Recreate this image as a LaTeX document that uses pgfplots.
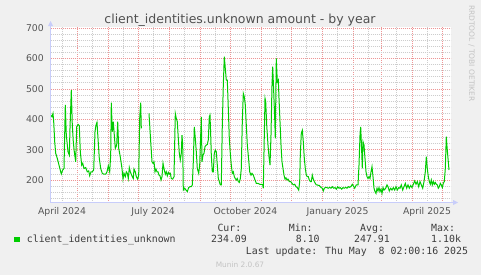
\documentclass[border=0pt]{standalone}
\usepackage{fontspec}
\setmainfont{DejaVu Sans}
\newfontfamily\monofont{DejaVu Sans Mono}
\usepackage{pgfplots}
\pgfplotsset{compat=1.18}
\definecolor{bgcol}{RGB}{240,240,240}
\definecolor{gridred}{RGB}{238,150,150}
\definecolor{gridgray}{RGB}{205,205,205}
\definecolor{axisblue}{RGB}{200,205,250}
\definecolor{labelgray}{RGB}{85,85,85}
\definecolor{titlegray}{RGB}{80,80,80}
\definecolor{legtext}{RGB}{60,60,60}
\definecolor{faint}{RGB}{195,195,195}
\definecolor{munin}{RGB}{0,204,0}
\begin{document}
\begin{tikzpicture}[x=1bp,y=1bp]
\useasboundingbox (0,0) rectangle (481,275);
\fill[bgcol] (0,0) rectangle (481,275);
\begin{axis}[
  at={(50.5bp,72.5bp)}, anchor=south west,
  scale only axis, width=400bp, height=175bp,
  xmin=3.5, xmax=403.5, ymin=126, ymax=702,
  axis line style={draw=none},
  axis background/.style={fill=white},
  xtick={30,61,91,122,153,183,214,244,275,306,334,365,395},
  xticklabels={,,,,,,,,,,,,},
  minor xtick={15,45,76,106,137,168,198,229,259,290,321,349,380},
  ytick={200,300,400,500,600,700},
  minor ytick={140,160,180,220,240,260,280,320,340,360,380,420,440,460,480,520,540,560,580,620,640,660,680},
  grid=both,
  major grid style={draw=gridred, dash pattern=on 1bp off 1bp, line width=0.6bp},
  minor grid style={draw=gridgray, dash pattern=on 1bp off 1bp, line width=0.6bp},
  major tick length=0pt, minor tick length=0pt,
  tick style={draw=none},
  /pgf/number format/assume math mode=true,
  yticklabel style={font=\fontsize{9.3bp}{11bp}\selectfont, text=labelgray, anchor=east, inner sep=0pt, xshift=-6.5bp},
  xticklabel style={font=\fontsize{9.3bp}{11bp}\selectfont, text=labelgray, anchor=base, inner sep=0pt, yshift=-11.5bp},
  extra x ticks={15,106,198.5,290.5,380},
  extra x tick labels={April 2024,July 2024,October 2024,January 2025,April 2025},
  extra x tick style={grid=none},
  unbounded coords=jump,
]
\addplot[color=munin, line width=1bp] coordinates {
(3.7,414) (5,408) (6,419) (6.7,392) (7.7,326) (8.7,288) (10.3,271) (12,249) (13.7,227) (14.3,220)
(15.7,233) (17,238) (18.3,447) (19.3,348) (21,293) (22.3,282) (23,370) (24.3,496) (25.3,381) (26.3,326)
(27.3,293) (28.7,260) (29.7,375) (31,383) (32.3,379) (33.3,293) (34.7,249) (35.7,255) (37,238) (38.7,241)
(40.3,227) (41.7,230) (42.7,214) (44,227) (45.3,227) (46.7,233) (48,359) (49,381) (50,390) (51,337)
(52.3,271) (53.7,238) (55.3,222) (57,219) (58.7,219) (60,227) (61.3,247) (62.7,227) (63.7,282) (64.3,455)
(65.3,359) (66.3,392) (67.3,348) (68.3,304) (69.7,315) (70.7,392) (71.7,304) (73,282) (74,260) (75,238)
(76,203) (77,222) (78.3,211) (79.3,227) (80.3,222) (81.3,205) (82.3,241) (83.3,227) (84.3,219) (85.3,211)
(86.3,205) (87,236) (88.3,227) (89.3,211) (90.7,203) (91.7,216) (92.7,403) (93.7,455) (94.3,370)
(98,nan)
(102,419) (103.7,326) (105,260) (106,255) (107,260) (108,227) (109,236) (110,227) (111,227) (112,216)
(113,214) (114,200) (115,211) (116,255) (117,238) (118.3,219) (119.3,227) (120.3,214) (121.3,225) (122.3,219)
(123.3,222) (124.3,205) (125.7,203) (127,211) (128.3,419) (129.3,403) (130.3,392) (131.3,337) (132.3,288) (133.3,266)
(134.3,288) (135,348) (135.7,315) (136.3,167) (137.7,173) (139,167) (140.3,162) (141.7,175) (143,178) (144.3,178)
(145.3,184) (146.3,260) (147.3,375) (148.3,337) (149.3,293) (150.3,238) (151.7,222) (152.7,249) (153.7,348) (154.3,408)
(155,260) (156,282) (157,288) (158,310) (159.3,315) (160.3,317) (161.3,332) (162.3,408) (163,414) (163.7,348)
(164.3,282) (165.3,227) (166.3,227) (167.3,288) (168.3,299) (169.3,293) (170.3,249) (171.3,205) (172.3,195) (173.3,184)
(174.3,184) (175.3,381) (176.3,512) (177.3,606) (178.3,567) (179.3,529) (180.3,529) (181.3,436) (182.3,337) (183.3,288)
(184.3,249) (185.3,222) (186.3,227) (187.3,211) (188.3,205) (189.3,200) (190.3,205) (191.3,195) (192.3,192) (193.3,205)
(194.3,238) (195.3,392) (196.3,485) (197.3,474) (198.3,447) (199.3,381) (200.3,315) (201.7,266) (202.7,227) (204,216)
(205,222) (206.3,216) (207.7,203) (209.3,189) (211,189) (212.7,186) (214.3,186) (215.7,184) (216.3,173) (217,293)
(218,469) (218.7,458) (219.7,381) (221,315) (222,277) (223,249) (224,348) (225,512) (225.7,573) (226.7,491)
(227.7,403) (228.3,337) (229.3,600) (230.3,523) (231.3,529) (232,469) (233,392) (234,315) (235,260) (236,238)
(237,216) (238,203) (239,207) (240,200) (241,203) (242.3,195) (243.7,195) (245,189) (246.3,184) (247.7,186)
(249,178) (250.3,175) (251.7,167) (252.7,195) (253.3,282) (254.3,354) (255.3,364) (256.3,326) (257.3,271) (258.3,238)
(259.3,216) (260.3,211) (261.3,211) (262.3,200) (263.3,195) (264.3,195) (265.3,216) (266.3,203) (267.3,195) (268.3,189)
(269.3,184) (270.3,184) (271.3,182) (272.3,182) (273.3,178) (274.3,175) (275.3,173) (276.3,164) (277.3,173) (278.7,176)
(280,175) (281.3,173) (282.7,176) (284,173) (285.3,178) (286.7,173) (288,175) (289.3,170) (290.7,178) (292,173)
(293.3,175) (294.7,170) (296,175) (297.3,173) (298.7,176) (300,173) (301.3,178) (302.7,176) (304,179) (305.3,186)
(307.7,173) (309.3,184) (311,184) (312,249) (313,348) (313.7,375) (314.7,293) (315.3,238) (316,326) (317,315)
(318,271) (319,227) (320,211) (321,205) (322,211) (323,205) (324,227) (325,244) (326,211) (327,173)
(328,162) (329,156) (330,173) (331,164) (332,175) (333,162) (334,170) (335,156) (336,175) (337,167)
(338,170) (339,175) (340,184) (341,178) (342.3,164) (343.7,173) (345,167) (346.3,175) (347.7,167) (349,178)
(350.3,167) (351.7,175) (353,173) (354.3,184) (355.7,167) (357,178) (358.3,189) (359.7,173) (361,184) (362.3,173)
(363.7,182) (365,175) (366.3,186) (367.7,197) (369,186) (370.3,195) (371.7,178) (373,195) (374.3,184) (375.7,173)
(377,195) (378.3,227) (379.3,277) (380.3,238) (381.3,211) (382.3,195) (383.3,186) (384.3,200) (385.3,184) (386.3,195)
(387.3,186) (388.3,192) (389.3,186) (390.3,184) (391.3,173) (392.3,178) (393.3,189) (394.3,184) (395.3,175) (396.3,189)
(397.3,195) (398.3,238) (399.3,343) (400,310) (401,271) (402,233)
};
\end{axis}
% axes with arrows
\draw[axisblue, line width=1bp] (50.5,72.5) -- (50.5,250);
\fill[axisblue] (48,249) -- (53,249) -- (50.5,254) -- cycle;
\draw[axisblue, line width=1bp] (50.5,72.5) -- (454,72.5);
\fill[axisblue] (453,70) -- (453,75) -- (458,72.5) -- cycle;
% title
\node[anchor=base, inner sep=0pt, text=titlegray, font=\fontsize{12.5bp}{14bp}\selectfont] at (240,251.5) {client\_identities.unknown amount - by year};
% side text
\node[rotate=-90, inner sep=0pt, text=faint, font=\fontsize{7.5bp}{9bp}\selectfont] at (471.5,221.5) {RRDTOOL / TOBI OETIKER};
% legend
\fill[munin] (14,33) rectangle (19.5,38.5);
\begin{scope}[every node/.style={anchor=base west, inner sep=0pt, text=legtext, font=\monofont\fontsize{9.88bp}{11bp}\selectfont}]
\node at (217.3,44) {Cur:};
\node at (288.7,44) {Min:};
\node at (360,44) {Avg:};
\node at (431,44) {Max:};
\node at (26.7,32.7) {client\_identities\_unknown};
\node at (211,32.7) {234.09};
\node at (295.7,32.7) {8.10};
\node at (354,32.7) {247.91};
\node at (431,32.7) {1.10k};
\node at (245.7,20.7) {Last update: Thu May\ \ 8 02:00:16 2025};
\end{scope}
\node[anchor=base, inner sep=0pt, text=faint, font=\fontsize{7.4bp}{9bp}\selectfont] at (240,7.5) {Munin 2.0.67};
\end{tikzpicture}
\end{document}
